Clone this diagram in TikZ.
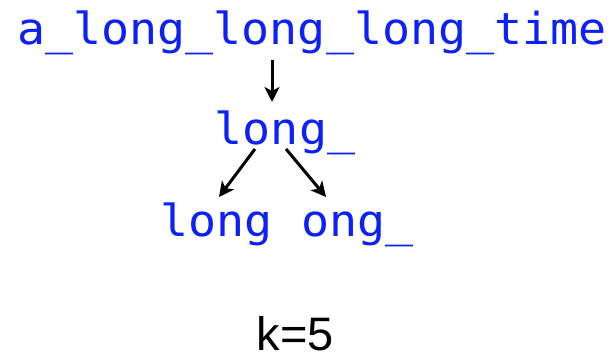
\documentclass[tikz,border=0pt]{standalone}
\usepackage{fontspec}
\setmainfont{Liberation Sans}
\newfontfamily\codefont[FakeStretch=1.06]{DejaVu Sans Mono}
\usetikzlibrary{arrows.meta}
\definecolor{codeblue}{RGB}{12,32,250}
\begin{document}
\begin{tikzpicture}[x=1pt,y=1pt,
  code/.style={anchor=base,inner sep=0pt,text=codeblue,font=\codefont\fontsize{44}{48}\selectfont},
  arr/.style={draw=black,line width=3pt,-{Stealth[length=15pt,width=15pt,inset=4pt]}}]
\useasboundingbox (0,0) rectangle (613,358);
% strings
\node[code] (top) at (312,313) {a\_long\_long\_long\_time};
\node[code] (mid) at (285,213) {long\_};
\node[code] (bot) at (287,121) {long ong\_};
\node[anchor=base,inner sep=0pt,font=\fontsize{47}{52}\selectfont] (k) at (295.5,7) {k=5};
% links between strings
\draw[arr] ([xshift=-40pt,yshift=-15pt]top.base) -- ([xshift=-13pt,yshift=43pt]mid.base);
\draw[arr] ([xshift=-30pt,yshift=-4pt]mid.base) -- ([xshift=-68pt,yshift=40pt]bot.base);
\draw[arr] ([xshift=1pt,yshift=-4pt]mid.base) -- ([xshift=39pt,yshift=40pt]bot.base);
\end{tikzpicture}
\end{document}
